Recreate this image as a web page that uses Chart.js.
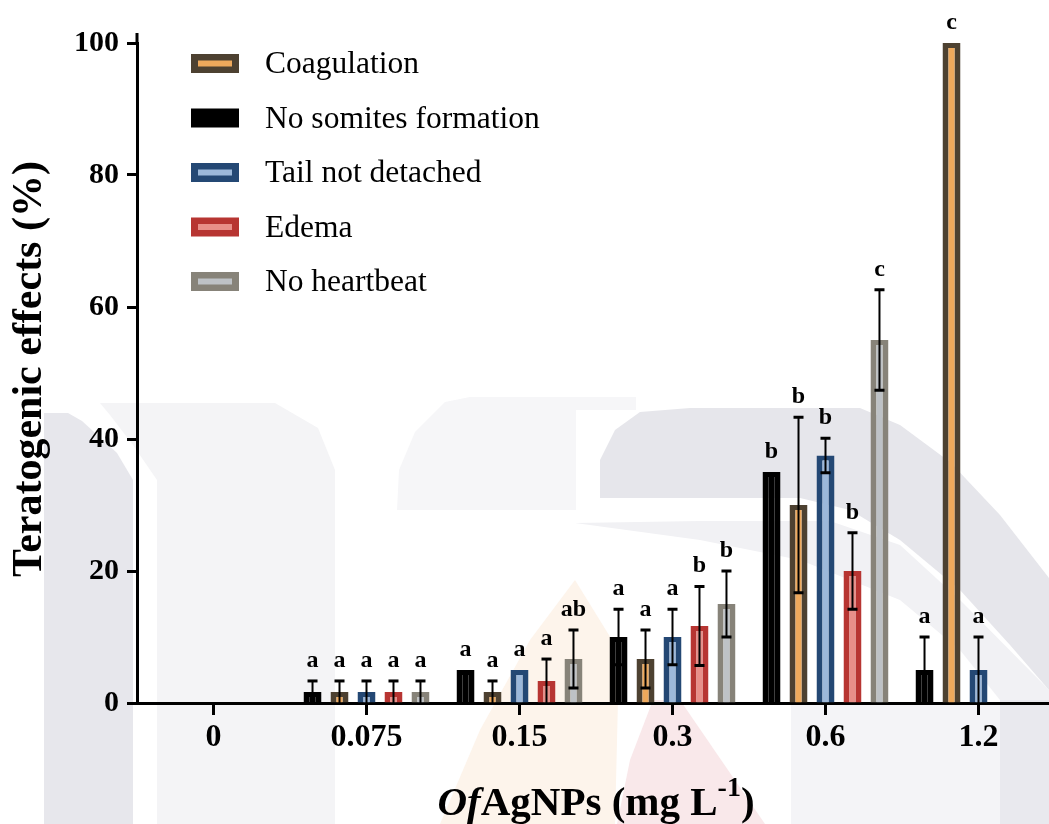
<!DOCTYPE html>
<html>
<head>
<meta charset="utf-8">
<script src="https://cdn.jsdelivr.net/npm/chart.js@4"></script>
<style>
  html, body { margin: 0; padding: 0; background: #fff; overflow: hidden; }
  #wrap { width: 1055px; height: 824px; }
</style>
</head>
<body>
<div id="wrap"><canvas id="chart" width="1055" height="824"></canvas></div>
<script>
// categories (mg L-1)
const doses = ['0', '0.075', '0.15', '0.3', '0.6', '1.2'];

// mean teratogenic effects (%)
const noSomites       = [0, 1.67, 5,    10,    35,   5];
const coagulation     = [0, 1.67, 1.67, 6.67,  30,   100];
const tailNotDetached = [0, 1.67, 5,    10,    37.5, 5];
const edema           = [0, 1.67, 3.33, 11.67, 20,   null];
const noHeartbeat     = [0, 1.67, 6.67, 15,    55,   null];

// standard deviations
const noSomitesErr   = [0, 1.67, 0,    4.2, 0,    5];
const coagulationErr = [0, 1.67, 1.67, 4.4, 13.3, 0];
const tailErr        = [0, 1.67, 0,    4.2, 2.6,  5];
const edemaErr       = [0, 1.67, 3.33, 6,   5.8,  null];
const heartbeatErr   = [0, 1.67, 4.4,  5,   7.6,  null];

// significance letters
const noSomitesSig   = ['', 'a', 'a', 'a', 'b', 'a'];
const coagulationSig = ['', 'a', 'a', 'a', 'b', 'c'];
const tailSig        = ['', 'a', 'a', 'a', 'b', 'a'];
const edemaSig       = ['', 'a', 'a', 'b', 'b', ''];
const heartbeatSig   = ['', 'a', 'ab', 'b', 'c', ''];

const serif = '"Liberation Serif", "Times New Roman", serif';

// legend shows coagulation first
const legendOrder = [1, 0, 2, 3, 4];

const barBorder = { top: 5, left: 6, right: 6, bottom: 0 };

const datasets = [
  { label: 'No somites formation', data: noSomites, errors: noSomitesErr, sig: noSomitesSig,
    backgroundColor: '#000000', borderColor: '#000000' },
  { label: 'Coagulation', data: coagulation, errors: coagulationErr, sig: coagulationSig,
    backgroundColor: '#eea95c', borderColor: '#4d4131' },
  { label: 'Tail not detached', data: tailNotDetached, errors: tailErr, sig: tailSig,
    backgroundColor: '#9cb8da', borderColor: '#244874' },
  { label: 'Edema', data: edema, errors: edemaErr, sig: edemaSig,
    backgroundColor: '#e88f89', borderColor: '#b73532' },
  { label: 'No heartbeat', data: noHeartbeat, errors: heartbeatErr, sig: heartbeatSig,
    backgroundColor: '#bec2c6', borderColor: '#878379' }
].map(d => Object.assign(d, {
  borderWidth: barBorder,
  categoryPercentage: 0.882,
  barPercentage: 0.667
}));

// faint thesis watermark behind the plot (decoration only)
const watermark = [
  { c: '#f4f4f6', p: [[100,403],[275,403],[318,428],[335,470],[335,824],[157,824],[157,480],[133,445],[110,415]] },
  { c: '#e7e7ec', p: [[44,413],[68,413],[82,421],[117,453],[133,480],[133,824],[44,824]] },
  { c: '#f6f6f8', p: [[397,510],[399,470],[415,432],[445,402],[470,397],[636,397],[636,410],[576,410],[576,510]] },
  { c: '#f1f1f4', p: [[575,523],[700,521],[830,521],[900,545],[960,600],[1049,690],[1049,824],[1000,824],[1000,700],[960,650],[900,600],[800,560],[700,540]] },
  { c: '#e6e6eb', p: [[600,498],[600,460],[615,430],[640,412],[690,408],[860,408],[900,425],[950,462],[1000,515],[1049,578],[1049,690],[1010,645],[960,590],[900,540],[850,510],[800,498]] },
  { c: '#fdf4eb', p: [[575,580],[612,640],[618,700],[615,824],[440,824],[480,730],[530,640]] },
  { c: '#f9e8ea', p: [[653,700],[680,700],[765,824],[617,824],[630,760]] },
  { c: '#f4f4f7', p: [[791,703],[1000,703],[1000,824],[791,824]] },
  { c: '#e9e9ee', p: [[1000,700],[1049,700],[1049,824],[1000,824]] }
];

const extras = {
  id: 'extras',
  beforeDraw(chart) {
    const ctx = chart.ctx;
    ctx.save();
    ctx.fillStyle = '#ffffff';
    ctx.fillRect(0, 0, chart.width, chart.height);
    watermark.forEach(s => {
      ctx.fillStyle = s.c;
      ctx.beginPath();
      s.p.forEach((pt, i) => i ? ctx.lineTo(pt[0], pt[1]) : ctx.moveTo(pt[0], pt[1]));
      ctx.closePath();
      ctx.fill();
    });
    ctx.restore();
  },
  afterDatasetsDraw(chart) {
    const ctx = chart.ctx;
    const y = chart.scales.y;
    ctx.save();
    chart.data.datasets.forEach((ds, i) => {
      const meta = chart.getDatasetMeta(i);
      meta.data.forEach((bar, j) => {
        const v = ds.data[j];
        if (v === null || v === undefined) return;
        const e = ds.errors[j] || 0;
        const top = y.getPixelForValue(v + e);
        if (e > 0) {
          const bot = y.getPixelForValue(Math.max(v - e, 0));
          ctx.strokeStyle = '#000';
          ctx.lineWidth = 2;
          ctx.beginPath();
          ctx.moveTo(bar.x, top);
          ctx.lineTo(bar.x, bot);
          ctx.stroke();
          ctx.lineWidth = 3;
          ctx.beginPath();
          ctx.moveTo(bar.x - 5, top);
          ctx.lineTo(bar.x + 5, top);
          if (v - e > 0) {
            ctx.moveTo(bar.x - 5, bot);
            ctx.lineTo(bar.x + 5, bot);
          }
          ctx.stroke();
        }
        const s = ds.sig[j];
        if (s) {
          ctx.fillStyle = '#000';
          ctx.font = 'bold 24px ' + serif;
          ctx.textAlign = 'center';
          ctx.textBaseline = 'alphabetic';
          ctx.fillText(s, bar.x, top - 14);
        }
      });
    });
    ctx.restore();
  },
  afterDraw(chart) {
    const ctx = chart.ctx;
    const area = chart.chartArea;
    ctx.save();

    // y axis runs a little above 100
    ctx.strokeStyle = '#000';
    ctx.lineWidth = 3;
    ctx.beginPath();
    ctx.moveTo(area.left, area.top);
    ctx.lineTo(area.left, area.top - 10);
    ctx.stroke();

    // legend
    legendOrder.forEach((idx, row) => {
      const ds = chart.data.datasets[idx];
      const by = 54 + row * 54.5;
      ctx.fillStyle = ds.borderColor;
      ctx.fillRect(191, by, 48, 19);
      ctx.fillStyle = ds.backgroundColor;
      ctx.fillRect(198, by + 6.5, 34, 6);
      ctx.fillStyle = '#000';
      ctx.font = '31.5px ' + serif;
      ctx.textAlign = 'left';
      ctx.textBaseline = 'alphabetic';
      ctx.fillText(ds.label, 265, by + 19);
    });

    // y axis title
    ctx.save();
    ctx.translate(41, 577);
    ctx.rotate(-Math.PI / 2);
    ctx.font = 'bold 42px ' + serif;
    ctx.textAlign = 'left';
    ctx.textBaseline = 'alphabetic';
    ctx.fillStyle = '#000';
    ctx.fillText('Teratogenic effects (%)', 0, 0);
    ctx.restore();

    // x axis title with italic prefix and superscript
    const parts = [
      { t: 'Of', f: 'italic bold 41px ' + serif, dy: 0 },
      { t: 'AgNPs (mg L', f: 'bold 41px ' + serif, dy: 0 },
      { t: '-1', f: 'bold 28px ' + serif, dy: -19 },
      { t: ')', f: 'bold 41px ' + serif, dy: 0 }
    ];
    let total = 0;
    parts.forEach(p => { ctx.font = p.f; p.w = ctx.measureText(p.t).width; total += p.w; });
    let x = (area.left + area.right) / 2 - total / 2;
    ctx.fillStyle = '#000';
    ctx.textAlign = 'left';
    ctx.textBaseline = 'alphabetic';
    parts.forEach(p => {
      ctx.font = p.f;
      ctx.fillText(p.t, x, 815 + p.dy);
      x += p.w;
    });
    ctx.restore();
  }
};

new Chart(document.getElementById('chart'), {
  type: 'bar',
  data: { labels: doses, datasets: datasets },
  options: {
    responsive: false,
    animation: false,
    layout: { padding: { top: 43, left: 0, right: 0, bottom: 0 } },
    plugins: { legend: { display: false }, tooltip: { enabled: false } },
    scales: {
      x: {
        z: 1,
        offset: true,
        grid: { drawOnChartArea: false, offset: false, tickLength: 12, tickWidth: 3, tickColor: '#000' },
        border: { color: '#000', width: 3 },
        ticks: { color: '#000', font: { family: serif, size: 32, weight: 'bold' }, padding: 4, maxRotation: 0, autoSkip: false },
        afterFit(scale) { scale.height = 121; }
      },
      y: {
        z: 1,
        min: 0,
        max: 100,
        grid: { drawOnChartArea: false, tickLength: 10, tickWidth: 3, tickColor: '#000' },
        border: { color: '#000', width: 3 },
        ticks: { stepSize: 20, color: '#000', font: { family: serif, size: 30, weight: 'bold' }, padding: 8 },
        afterFit(scale) { scale.width = 137; }
      }
    }
  },
  plugins: [extras]
});
</script>
</body>
</html>
